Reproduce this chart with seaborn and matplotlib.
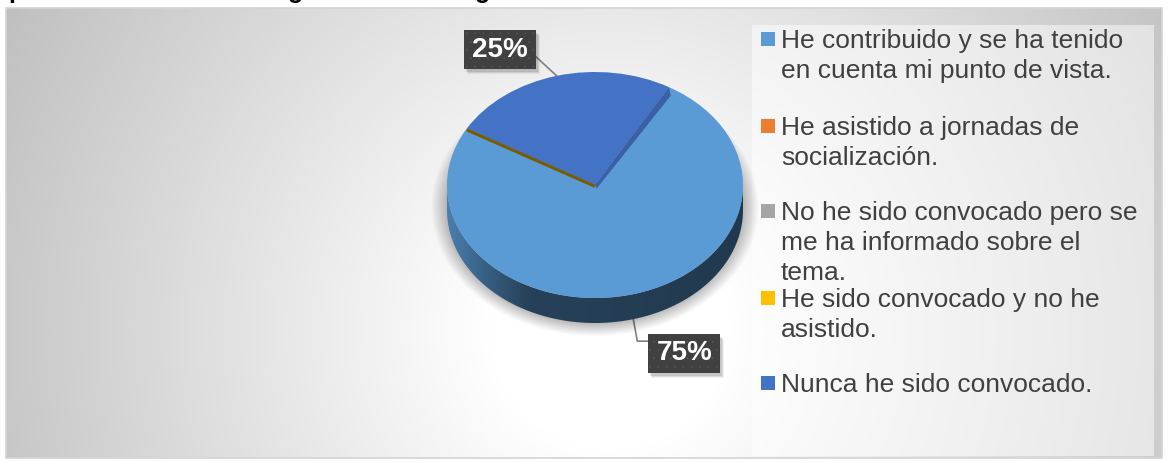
import numpy as np
import matplotlib
matplotlib.use("Agg")
import matplotlib.pyplot as plt
import seaborn as sns
from matplotlib.patches import Rectangle, Polygon

# ---- data -------------------------------------------------------------
categories = [
    "He contribuido y se ha tenido\nen cuenta mi punto de vista.",
    "He asistido a jornadas de\nsocialización.",
    "No he sido convocado pero se\nme ha informado sobre el\ntema.",
    "He sido convocado y no he\nasistido.",
    "Nunca he sido convocado.",
]
values = [75, 0, 0, 0, 25]
colors = ["#5b9bd5", "#ed7d31", "#a5a5a5", "#ffc000", "#4472c4"]
value_labels = [f"{v}%" for v in values]

# ---- style --------------------------------------------------------------
W, H = 1168, 462
sns.set_theme(style="white")
plt.rcParams['font.family'] = ['Liberation Sans', 'DejaVu Sans']
plt.rcParams['hatch.linewidth'] = 0.0

fig = plt.figure(figsize=(W / 100, H / 100), dpi=100)
fig.patch.set_facecolor("white")

# background layer in pixel coordinates
bg = fig.add_axes([0, 0, 1, 1])
bg.axis("off")

# chart area with a radial grey gradient
x0, x1, y0, y1 = 6, 1162, 8, 458
xx, yy = np.meshgrid(np.arange(x0, x1) + 0.5, np.arange(y0, y1) + 0.5)
rr = np.hypot(xx - 610, yy - 330)
tt = np.clip((rr - 120) / 560, 0, 1)
gg = (255 - 63 * tt) / 255
bg.imshow(np.dstack([gg, gg, gg]), extent=(x0, x1, y1, y0),
          interpolation="bilinear", zorder=0)
bg.add_patch(Rectangle((x0, y0), x1 - x0, y1 - y0, fill=False,
                       ec="#d4d4d4", lw=1.2, zorder=1))
bg.set_aspect("auto")
bg.set_xlim(0, W)
bg.set_ylim(H, 0)

# title line above the chart area (only its lower edge fits in the frame)
for lx, ch in [(8, "p"), (288, "g"), (475, "g")]:
    bg.text(lx, -2, ch, fontsize=18, fontweight="bold", color="black",
            ha="left", va="baseline", clip_on=False)

# legend panel
bg.add_patch(Rectangle((752, 25), 402, 431, fc="white", ec="none",
                       alpha=0.5, zorder=2))

# ---- pie (tilted, with depth) ------------------------------------------
cx, cy = 595, 185          # pixel centre of the top face
a_px, b_px = 148, 113      # ellipse semi-axes
depth = 25 / b_px          # side thickness in data units
ax = fig.add_axes([(cx - 1.5 * a_px) / W, (H - cy - 2 * b_px) / H,
                   3 * a_px / W, 3.5 * b_px / H])
ax.patch.set_alpha(0)

# soft drop shadow under the pie
sx, sy = np.meshgrid(np.linspace(-1.5, 1.5, 300), np.linspace(-2, 1.5, 350))
dist = np.hypot(sx / 1.03, (sy + depth * 0.9) / 1.06)
shadow = np.clip((1.08 - dist) / 0.12, 0, 1) * 0.3
simg = np.zeros((350, 300, 4))
simg[..., 3] = shadow
ax.imshow(simg, extent=(-1.5, 1.5, -2, 1.5), origin="lower",
          interpolation="bilinear", zorder=0)

start = 30  # first slice angle, clockwise from 12 o'clock
wedges, _ = ax.pie(values, colors=colors, startangle=90 - start,
                   counterclock=False, radius=1,
                   wedgeprops=dict(linewidth=0))
for w in wedges:
    w.set_zorder(3)

edges = start + 360 * np.cumsum([0] + values) / sum(values)


def pt(theta, dz=0.0):
    th = np.radians(theta)
    return np.sin(th), np.cos(th) - dz


# front side of every slice
for i, v in enumerate(values):
    if v == 0:
        continue
    t1, t2 = edges[i], edges[i + 1]
    for k in (-1, 0, 1):
        lo, hi = max(t1, 90 + 360 * k), min(t2, 270 + 360 * k)
        if hi <= lo:
            continue
        ths = np.linspace(lo, hi, 200)
        top = [pt(t) for t in ths]
        bot = [pt(t, depth) for t in ths[::-1]]
        poly = Polygon(top + bot, closed=True, fc="none", ec="none")
        ax.add_patch(poly)
        base = np.array(matplotlib.colors.to_rgb(colors[i]))
        gx = np.linspace(-1, 1, 400)
        shade = np.interp(gx, [-1, -0.75, -0.45, 1], [0.82, 0.62, 0.42, 0.37])
        grad = np.clip(base[None, :] * shade[:, None], 0, 1)[None, :, :]
        im = ax.imshow(grad, extent=(-1, 1, -1 - depth, 0.2), origin="lower",
                       interpolation="bilinear", aspect="auto", zorder=2)
        im.set_clip_path(poly)

# cut faces where slices meet
for i, v in enumerate(values):
    if v == 0:
        continue
    t1 = edges[i]
    prev = (i - 1) % len(values)
    if values[prev] == 0:
        # empty slices collapsed on this boundary
        rx, ry = pt(t1)
        ax.plot([0, rx], [-0.012, ry - 0.012], color="#7a5c00",
                lw=2.2, solid_capstyle="butt", zorder=4)
    else:
        rx, ry = pt(t1)
        shade_c = np.array(matplotlib.colors.to_rgb(colors[prev])) * 0.85
        ax.add_patch(Polygon([(0, 0), (rx, ry), (rx + 0.012, ry - 0.075),
                              (0.012, -0.03)], closed=True, fc=shade_c,
                             ec="none", zorder=4))

ax.set_aspect("auto")
ax.set_xlim(-1.5, 1.5)
ax.set_ylim(-2, 1.5)
ax.axis("off")

# ---- value labels with leader lines ------------------------------------
to_px = ax.transData + bg.transData.inverted()
renderer = fig.canvas.get_renderer()
for i, v in enumerate(values):
    if v == 0:
        continue
    mid = (edges[i] + edges[i + 1]) / 2
    mx, my = pt(mid)
    front = my < 0
    if front:
        my -= depth
    axp, ayp = to_px.transform((mx, my))
    if front:
        lx, ly = axp + 51, ayp + 34
    else:
        lx, ly = axp - 57, ayp - 26
    txt = bg.text(lx, ly, value_labels[i], ha="center", va="center",
                  color="white", fontsize=20, fontweight="bold", zorder=8)
    bb = txt.get_window_extent(renderer).transformed(bg.transData.inverted())
    bw = bb.width + 16
    bh = 39
    left, topy = lx - bw / 2, ly - bh / 2
    # soft shadow behind the label box
    for s, al in [(5, 0.06), (4, 0.08), (3, 0.1)]:
        bg.add_patch(Rectangle((left + s - 1, topy + s), bw, bh, fc="black",
                               ec="none", alpha=al, zorder=6.5))
    bg.add_patch(Rectangle((left, topy), bw, bh, fc="#404040", ec="#575757",
                           lw=0, hatch="..", zorder=7))
    if front:
        ex, ey = left, ly - 12
        bg.plot([axp, axp + 4, ex], [ayp, ey, ey], color="#7f7f7f",
                lw=1.2, zorder=6)
    else:
        ex, ey = left + bw, topy + bh - 13
        bg.plot([axp, ex], [ayp, ey], color="#7f7f7f", lw=1.2, zorder=6)

# ---- legend -------------------------------------------------------------
baselines = [48, 135, 220, 307, 392]
for c, label, yb in zip(colors, categories, baselines):
    bg.add_patch(Rectangle((761, yb - 16), 14, 14, fc=c, ec="none", zorder=5))
    for j, line in enumerate(label.split("\n")):
        bg.text(781, yb + 30 * j, line, fontsize=19, color="#404040",
                ha="left", va="baseline", zorder=5)

fig.savefig("out.png", dpi=100)
